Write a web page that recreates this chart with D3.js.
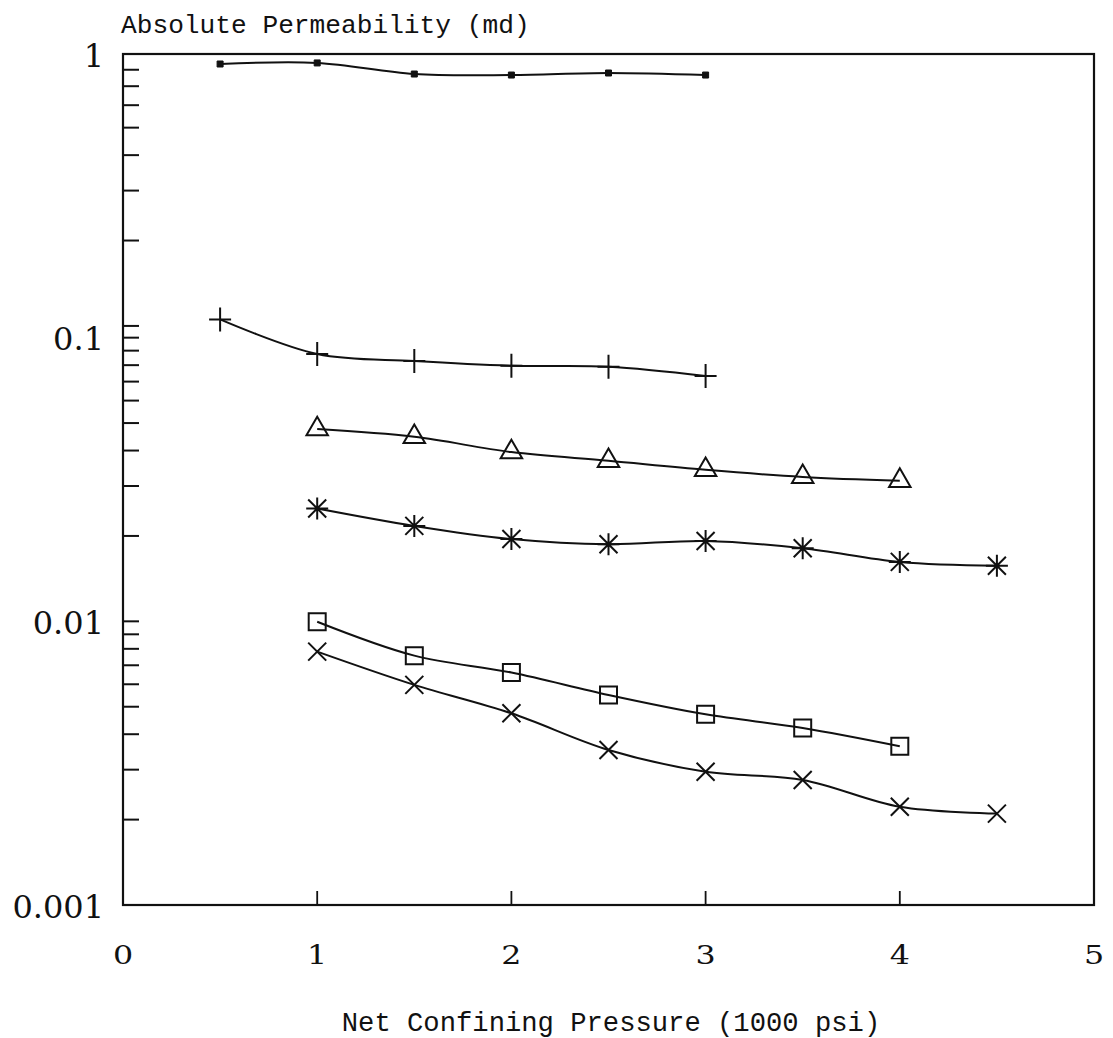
<!DOCTYPE html>
<html>
<head>
<meta charset="utf-8">
<script src="https://cdn.jsdelivr.net/npm/d3@7"></script>
<style>
  body { margin: 0; background: #fff; }
  svg { display: block; }
</style>
</head>
<body>
<svg id="chart" width="1113" height="1038"></svg>
<script>
// Net confining pressure (1000 psi) and absolute permeability (md) per sample
const pressureA = [0.5, 1, 1.5, 2, 2.5, 3];
const permA     = [0.922, 0.930, 0.850, 0.843, 0.857, 0.843];

const pressureB = [0.5, 1, 1.5, 2, 2.5, 3];
const permB     = [0.116, 0.0876, 0.0827, 0.0796, 0.0790, 0.0733];

const pressureC = [1, 1.5, 2, 2.5, 3, 3.5, 4];
const permC     = [0.0476, 0.0447, 0.0395, 0.0368, 0.0342, 0.0323, 0.0313];

const pressureD = [1, 1.5, 2, 2.5, 3, 3.5, 4, 4.5];
const permD     = [0.0250, 0.0217, 0.0195, 0.0187, 0.0192, 0.0181, 0.0162, 0.0157];

const pressureE = [1, 1.5, 2, 2.5, 3, 3.5, 4];
const permE     = [0.00997, 0.00757, 0.00660, 0.00550, 0.00470, 0.00421, 0.00363];

const pressureF = [1, 1.5, 2, 2.5, 3, 3.5, 4, 4.5];
const permF     = [0.00782, 0.00597, 0.00474, 0.00352, 0.00295, 0.00276, 0.00222, 0.00210];

// Axis ticks and labels
const xTickValues = [0, 1, 2, 3, 4, 5];
const xInnerTicks = [1, 2, 3, 4];
const yLabelValues = [1, 0.1, 0.01, 0.001];
const yLabelText   = ["1", "0.1", "0.01", "0.001"];
const yTickValues  = [0.88, 0.77, 0.66, 0.55, 0.44, 0.33, 0.22, 0.11,
                      0.1, 0.09, 0.08, 0.07, 0.06, 0.05, 0.04, 0.03, 0.02,
                      0.01, 0.009, 0.008, 0.007, 0.006, 0.005, 0.004, 0.003, 0.002];

const svg = d3.select("#chart");

const x = d3.scaleLinear().domain([0, 5]).range([123, 1094]);
const y = d3.scaleLog().domain([0.001, 1]).range([905, 54]);

const ink = "#111";

// Frame
svg.append("rect")
  .attr("x", x(0)).attr("y", y(1))
  .attr("width", x(5) - x(0)).attr("height", y(0.001) - y(1))
  .attr("fill", "none").attr("stroke", ink).attr("stroke-width", 2.2);

// Left axis ticks (pointing inward)
svg.append("g").selectAll("line").data(yTickValues).join("line")
  .attr("x1", x(0)).attr("x2", x(0) + 16)
  .attr("y1", d => y(d)).attr("y2", d => y(d))
  .attr("stroke", ink).attr("stroke-width", 2);

// Bottom axis ticks (pointing inward)
svg.append("g").selectAll("line").data(xInnerTicks).join("line")
  .attr("x1", d => x(d)).attr("x2", d => x(d))
  .attr("y1", y(0.001)).attr("y2", y(0.001) - 14)
  .attr("stroke", ink).attr("stroke-width", 1.8);

// Y labels
svg.append("g").selectAll("text").data(yLabelValues).join("text")
  .attr("x", 104).attr("y", d => y(d) + 12.5)
  .attr("text-anchor", "end")
  .attr("font-family", "DejaVu Serif")
  .attr("font-size", 32)
  .attr("fill", ink)
  .text((d, i) => yLabelText[i]);

// X labels
svg.append("g").selectAll("text").data(xTickValues).join("text")
  .attr("transform", d => `translate(${x(d)},964) scale(1.22,1)`)
  .attr("text-anchor", "middle")
  .attr("font-family", "DejaVu Serif")
  .attr("font-size", 26)
  .attr("fill", ink)
  .text(d => d);

// Axis titles
svg.append("text")
  .attr("x", 121).attr("y", 33)
  .attr("font-family", "Liberation Mono")
  .attr("font-size", 26.2)
  .attr("fill", ink)
  .text("Absolute Permeability (md)");

svg.append("text")
  .attr("x", 611).attr("y", 1031)
  .attr("text-anchor", "middle")
  .attr("font-family", "Liberation Mono")
  .attr("font-size", 27.2)
  .attr("fill", ink)
  .text("Net Confining Pressure (1000 psi)");

// Curves
const line = d3.line()
  .x(d => x(d[0])).y(d => y(d[1]))
  .curve(d3.curveCatmullRom.alpha(0.5));

const series = [
  { xs: pressureA, ys: permA, marker: "dot" },
  { xs: pressureB, ys: permB, marker: "plus" },
  { xs: pressureC, ys: permC, marker: "triangle" },
  { xs: pressureD, ys: permD, marker: "star" },
  { xs: pressureE, ys: permE, marker: "square" },
  { xs: pressureF, ys: permF, marker: "cross" }
];

const markerPath = {
  plus: "M-11,0H11M0,-12V12",
  star: "M0,-11V11M-9,-9L9,9M-9,9L9,-9M-11,0H11",
  cross: "M-9,-9L9,9M-9,9L9,-9",
  square: "M-8.5,-8.5H8.5V8.5H-8.5Z",
  triangle: d3.symbol(d3.symbolTriangle, 200)(),
  dot: "M-3,-3H3V3H-3Z"
};

series.forEach(s => {
  const pts = s.xs.map((v, i) => [v, s.ys[i]]);
  svg.append("path")
    .datum(pts)
    .attr("d", line)
    .attr("fill", "none")
    .attr("stroke", ink)
    .attr("stroke-width", 2);

  svg.append("g").selectAll("path").data(pts).join("path")
    .attr("transform", d => `translate(${x(d[0])},${y(d[1])})`)
    .attr("d", markerPath[s.marker])
    .attr("fill", s.marker === "dot" ? ink : "none")
    .attr("stroke", ink)
    .attr("stroke-width", s.marker === "dot" ? 1 : 2);
});
</script>
</body>
</html>
